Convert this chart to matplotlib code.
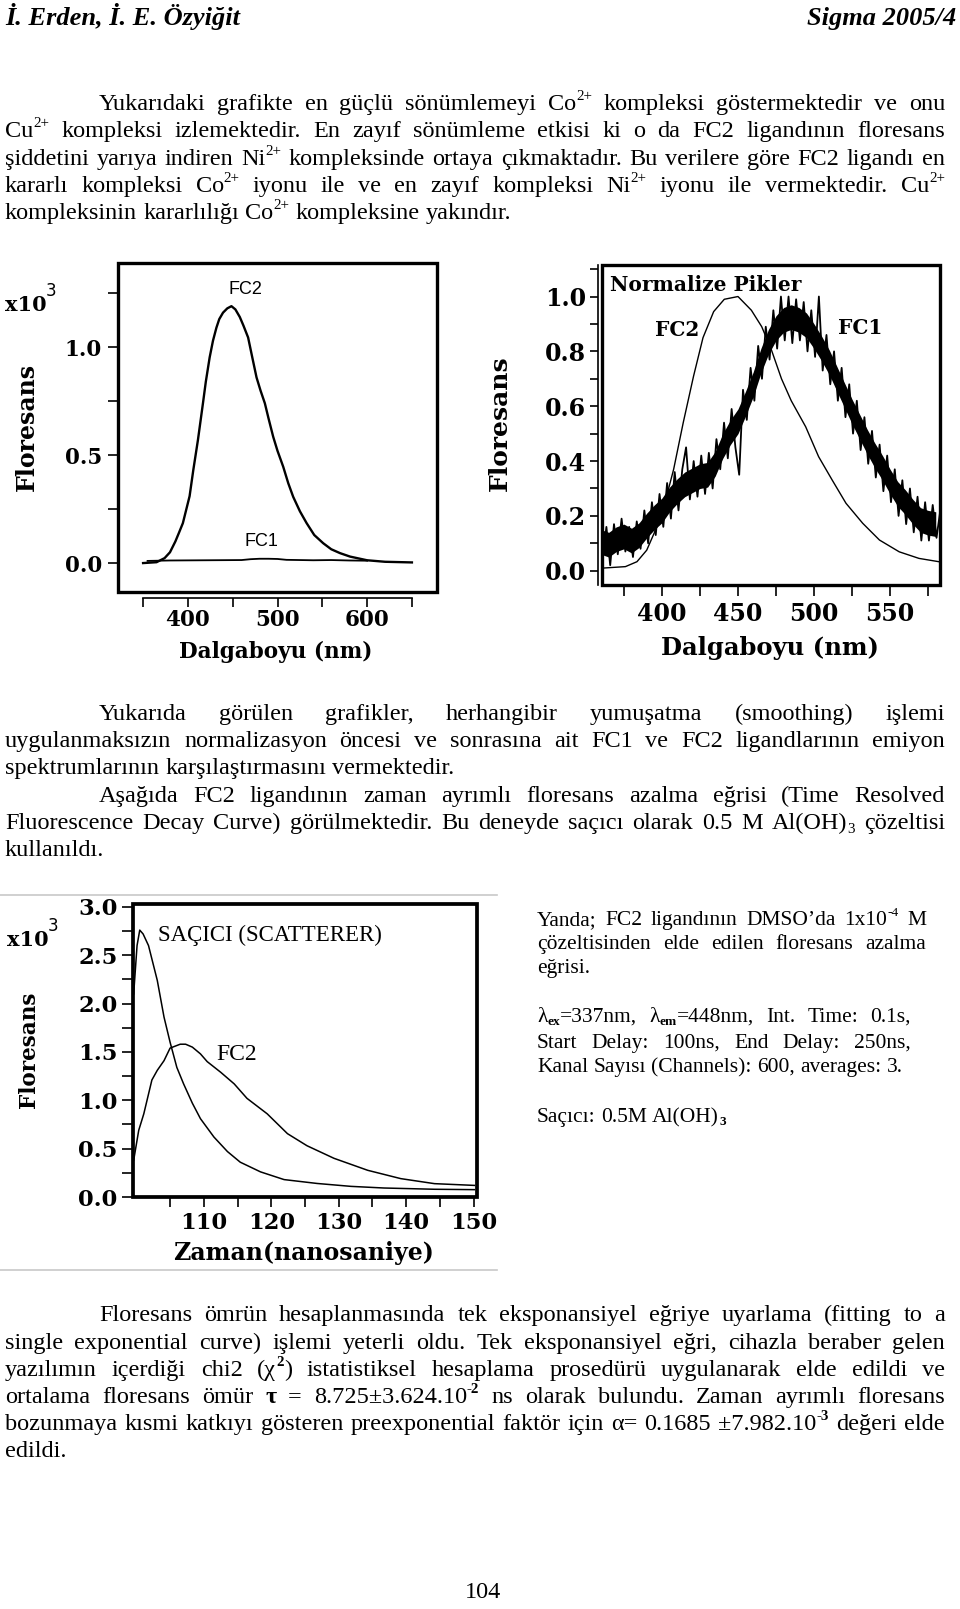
import re
import numpy as np
import matplotlib
matplotlib.use('Agg')
import matplotlib.pyplot as plt
from matplotlib.lines import Line2D
from matplotlib.patches import Rectangle

W, H = 960, 1609

# --- chart 1: raw emission spectra (x10^3) ---
fc2_wl = [350, 365, 374, 380, 386, 390, 394.4, 398, 401.9, 406, 411.2, 416.8, 420, 424.3, 428,
          431.8, 435, 439.2, 444, 448.6, 453, 457.9, 462, 467.2, 472, 476.6, 481, 485.9, 490,
          495.2, 500, 506.4, 512, 517.5, 525, 532.5, 541, 551, 560, 569.8, 581, 600, 620, 650]
fc2_int = [0.0, 0.004, 0.023, 0.05, 0.1, 0.14, 0.185, 0.245, 0.31, 0.43, 0.57, 0.74, 0.84, 0.953, 1.03,
           1.09, 1.13, 1.16, 1.18, 1.19, 1.175, 1.14, 1.10, 1.045, 0.95, 0.86, 0.80, 0.74, 0.67,
           0.585, 0.52, 0.446, 0.37, 0.307, 0.24, 0.185, 0.13, 0.092, 0.064, 0.046, 0.03, 0.013, 0.006, 0.003]
fc1_wl = [355, 380, 420, 460, 470, 480, 490, 500, 510, 540, 560, 580, 600]
fc1_int = [0.010, 0.012, 0.013, 0.014, 0.018, 0.020, 0.020, 0.019, 0.015, 0.013, 0.014, 0.012, 0.011]

# --- chart 2: normalized peaks ---
n2_wl = [362, 376, 383.6, 390, 396.7, 403, 407.7, 414, 420.8, 427, 434, 441, 450, 458.8,
         465.6, 472, 478.6, 485, 494.5, 503, 512, 521, 532, 543, 556, 569, 582]
n2_int = [0.01, 0.015, 0.033, 0.075, 0.16, 0.27, 0.37, 0.54, 0.71, 0.85, 0.945, 0.99, 1.0, 0.95,
          0.89, 0.805, 0.70, 0.62, 0.525, 0.416, 0.33, 0.246, 0.173, 0.112, 0.069, 0.045, 0.033]
# FC1: dark core of the noisy trace (every 5 nm) plus the spiky trace on top
band_wl = np.arange(360, 581, 5)
band_lo = [0.06, 0.05, 0.07, 0.08, 0.065, 0.085, 0.12, 0.15, 0.175, 0.215, 0.245, 0.27, 0.285, 0.30, 0.305,
           0.345, 0.41, 0.46, 0.50, 0.565, 0.635, 0.72, 0.79, 0.84, 0.87, 0.88, 0.87, 0.85, 0.81, 0.765,
           0.715, 0.655, 0.595, 0.535, 0.48, 0.425, 0.375, 0.33, 0.28, 0.235, 0.205, 0.17, 0.14, 0.13, 0.125]
band_hi = [0.15, 0.14, 0.16, 0.17, 0.155, 0.175, 0.21, 0.24, 0.265, 0.305, 0.335, 0.36, 0.375, 0.39, 0.395,
           0.435, 0.50, 0.55, 0.59, 0.655, 0.725, 0.81, 0.88, 0.93, 0.96, 0.97, 0.96, 0.94, 0.90, 0.855,
           0.805, 0.745, 0.685, 0.625, 0.57, 0.515, 0.465, 0.42, 0.37, 0.325, 0.295, 0.26, 0.23, 0.22, 0.215]
n1_int = [0.04, 0.16, 0.02, 0.17, 0.06, 0.19, 0.07, 0.16, 0.05, 0.18,
          0.08, 0.22, 0.10, 0.25, 0.13, 0.28, 0.16, 0.32, 0.19, 0.36,
          0.22, 0.37, 0.45, 0.26, 0.40, 0.27, 0.42, 0.28, 0.43, 0.30,
          0.48, 0.37, 0.54, 0.41, 0.59, 0.45, 0.35, 0.66, 0.55, 0.74,
          0.62, 0.82, 0.70, 0.89, 0.77, 0.95, 0.81, 1.00, 0.84, 1.00,
          0.83, 0.99, 0.84, 0.98, 0.80, 0.95, 0.78, 1.00, 0.73, 0.86,
          0.68, 0.80, 0.62, 0.74, 0.56, 0.68, 0.50, 0.62, 0.44, 0.56,
          0.39, 0.51, 0.34, 0.46, 0.29, 0.42, 0.25, 0.37, 0.20, 0.33,
          0.17, 0.30, 0.14, 0.27, 0.11, 0.25, 0.11, 0.24, 0.12, 0.22]
n1_wl = np.linspace(361, 583, len(n1_int))

# --- chart 3: decay curves (x10^3) ---
scat_t = [99.6, 99.8, 100.1, 100.5, 101.0, 101.8, 103.1, 104.1, 105.0, 106.0, 107.0, 108.3,
          109.5, 111.5, 113.5, 115.4, 118.4, 121.9, 126.8, 131.8, 136.7, 144.2, 150.1]
scat_v = [2.1, 2.3, 2.6, 2.76, 2.72, 2.60, 2.24, 1.86, 1.60, 1.34, 1.17, 0.97,
          0.81, 0.62, 0.47, 0.36, 0.26, 0.18, 0.14, 0.11, 0.093, 0.08, 0.076]
dec_t = [99.6, 100.35, 101.1, 102.3, 103.1, 104.1, 105.0, 106.5, 107.3, 108.3, 109.5, 110.5,
         112.5, 114.5, 116.4, 119.4, 122.4, 125.3, 129.3, 134.3, 139.2, 144.2, 150.1]
dec_v = [0.38, 0.69, 0.86, 1.21, 1.31, 1.41, 1.54, 1.58, 1.58, 1.55, 1.48, 1.40,
         1.29, 1.17, 1.02, 0.86, 0.655, 0.53, 0.40, 0.276, 0.19, 0.138, 0.12]

# --- page text (^{..} superscript, _{..} subscript, b = bold) ---
para1 = ["Yukarıdaki grafikte en güçlü sönümlemeyi Co^{2+} kompleksi göstermektedir ve onu",
         "Cu^{2+} kompleksi izlemektedir. En zayıf sönümleme etkisi ki o da FC2 ligandının floresans",
         "şiddetini yarıya indiren Ni^{2+} kompleksinde ortaya çıkmaktadır. Bu verilere göre FC2 ligandı en",
         "kararlı kompleksi Co^{2+} iyonu ile ve en zayıf kompleksi Ni^{2+} iyonu ile vermektedir. Cu^{2+}",
         "kompleksinin kararlılığı Co^{2+} kompleksine yakındır."]
para2 = ["Yukarıda görülen grafikler, herhangibir yumuşatma (smoothing) işlemi",
         "uygulanmaksızın normalizasyon öncesi ve sonrasına ait FC1 ve FC2 ligandlarının emiyon",
         "spektrumlarının karşılaştırmasını vermektedir.",
         "Aşağıda FC2 ligandının zaman ayrımlı floresans azalma eğrisi (Time Resolved",
         "Fluorescence Decay Curve) görülmektedir. Bu deneyde saçıcı olarak 0.5 M Al(OH)_{3} çözeltisi",
         "kullanıldı."]
side = ["Yanda; FC2 ligandının DMSO’da 1x10^{-4} M",
        "çözeltisinden elde edilen floresans azalma",
        "eğrisi.",
        "λ_b{ex}=337nm, λ_b{em}=448nm, Int. Time: 0.1s,",
        "Start Delay: 100ns, End Delay: 250ns,",
        "Kanal Sayısı (Channels): 600, averages: 3.",
        "Saçıcı: 0.5M Al(OH)_b{3}"]
para3 = ["Floresans ömrün hesaplanmasında tek eksponansiyel eğriye uyarlama (fitting to a",
         "single exponential curve) işlemi yeterli oldu. Tek eksponansiyel eğri, cihazla beraber gelen",
         "yazılımın içerdiği chi2 (χ^b{2}) istatistiksel hesaplama prosedürü uygulanarak elde edildi ve",
         "ortalama floresans ömür τ = 8.725±3.624.10^b{-2} ns olarak bulundu. Zaman ayrımlı floresans",
         "bozunmaya kısmi katkıyı gösteren preexponential faktör için α= 0.1685 ±7.982.10^b{-3} değeri elde",
         "edildi."]

fig = plt.figure(figsize=(9.6, 16.09), dpi=100)
renderer = fig.canvas.get_renderer()


def fx(x):
    return x / W


def fy(y):
    return 1 - y / H


def make_word(word, y, size, bold):
    # split a word into base / superscript / subscript pieces
    arts = []
    for part in re.split(r'([\^_]b?\{[^}]*\})', word):
        if not part:
            continue
        weight = 'bold' if bold else 'normal'
        fs, dy = size, 0.0
        if part[0] in '^_':
            if part[1] == 'b':
                weight = 'bold'
            fs = size * 0.62
            dy = 0.40 * size if part[0] == '^' else -0.15 * size
            part = part[part.index('{') + 1:-1]
        t = fig.text(0, fy(y) + dy * 100 / 72 / H, part, va='baseline', ha='left',
                     family='Liberation Serif', fontsize=fs, fontweight=weight)
        arts.append([t, t.get_window_extent(renderer).width])
    return arts


def put_line(text, x0, y, x1=None, size=17.5, bold=()):
    words = [w for w in text.split(' ') if w]
    pieces = [make_word(w, y, size, w in bold) for w in words]
    widths = [sum(p[1] for p in pc) for pc in pieces]
    if x1 is None:
        gap = 0.25 * size * 100 / 72
    else:
        gap = (x1 - x0 - sum(widths)) / (len(words) - 1)
    x = x0
    for pc, w in zip(pieces, widths):
        xx = x
        for t, pw in pc:
            t.set_x(fx(xx))
            xx += pw
        x += w + gap


def new_axes(x0, y0, x1, y1):
    return fig.add_axes([fx(x0), fy(y1), (x1 - x0) / W, (y1 - y0) / H])


def frame(ax, lw):
    for s in ax.spines.values():
        s.set_visible(False)
    ax.add_patch(Rectangle((0, 0), 1, 1, transform=ax.transAxes, fill=False,
                           lw=lw, ec='black', clip_on=False, zorder=5))


def style_ticks(ax, size):
    for lab in ax.get_xticklabels() + ax.get_yticklabels():
        lab.set_fontfamily('DejaVu Serif')
        lab.set_fontweight('bold')
        lab.set_fontsize(size)


def chart_text(x, y, s, size, rot=0, family='DejaVu Serif', weight='bold', ha='center', va='center'):
    fig.text(fx(x), fy(y), s, fontsize=size, rotation=rot, family=family,
             fontweight=weight, ha=ha, va=va)


def x10(x, y):
    fig.text(fx(x), fy(y), 'x10', family='DejaVu Serif', fontweight='bold', fontsize=15, va='baseline')
    fig.text(fx(x + 41), fy(y - 15), '3', family='DejaVu Sans', fontsize=12, va='baseline')


# header
fig.text(fx(5), fy(25), 'İ. Erden, İ. E. Özyiğit', family='Liberation Serif', fontsize=19,
         fontweight='bold', fontstyle='italic', va='baseline')
fig.text(fx(956), fy(25), 'Sigma 2005/4', family='Liberation Serif', fontsize=19,
         fontweight='bold', fontstyle='italic', va='baseline', ha='right')

# paragraph 1
ys = [110, 137, 165, 192, 219]
for i, (t, y) in enumerate(zip(para1, ys)):
    x0 = 99 if i == 0 else 5
    put_line(t, x0, y, 945 if i < 4 else None)

# chart 1
ax1 = new_axes(118, 263, 437, 592)
ax1.plot(fc2_wl, fc2_int, color='black', lw=1.7)
ax1.plot(fc1_wl, fc1_int, color='black', lw=1.3)
ax1.set_xlim(322, 678)
ax1.set_ylim(-0.134, 1.39)
frame(ax1, 2.4)
ax1.spines['bottom'].set_visible(True)
ax1.spines['bottom'].set_position(('outward', 4))
ax1.spines['bottom'].set_bounds(350, 650)
ax1.spines['bottom'].set_linewidth(1.2)
ax1.set_xticks(np.arange(350, 651, 50))
ax1.set_xticklabels(['', '400', '', '500', '', '600', ''])
ax1.set_yticks(np.arange(0, 1.26, 0.25))
ax1.set_yticklabels(['0.0', '', '0.5', '', '1.0', ''])
ax1.tick_params(axis='y', direction='out', length=7.5, width=1.2, pad=4)
ax1.tick_params(axis='x', direction='out', length=6.5, width=1.2, pad=2)
style_ticks(ax1, 15.5)
chart_text(276, 652, 'Dalgaboyu (nm)', 15.5)
chart_text(27, 427, 'Floresans', 17, rot=90)
x10(5, 311)
chart_text(245, 289, 'FC2', 13, family='Liberation Sans', weight='normal')
chart_text(261, 542, 'FC1', 13, family='Liberation Sans', weight='normal')

# chart 2
ax2 = new_axes(602, 265, 940, 585)
ax2.plot(n2_wl, n2_int, color='black', lw=1.0)
ax2.fill_between(band_wl, band_lo, band_hi, color='black', lw=0)
ax2.plot(n1_wl, n1_int, color='black', lw=1.3)
ax2.set_xlim(360.6, 582.8)
ax2.set_ylim(-0.052, 1.115)
frame(ax2, 2.4)
ax2.spines['left'].set_visible(True)
ax2.spines['left'].set_position(('outward', 3))
ax2.spines['left'].set_linewidth(1.2)
ax2.set_xticks(np.arange(375, 576, 25))
ax2.set_xticklabels(['', '400', '', '450', '', '500', '', '550', ''])
ax2.set_yticks(np.arange(0, 1.11, 0.1))
ax2.set_yticklabels(['0.0', '', '0.2', '', '0.4', '', '0.6', '', '0.8', '', '1.0', ''])
ax2.tick_params(axis='y', direction='out', length=5.5, width=1.2, pad=3)
ax2.tick_params(axis='x', direction='out', length=8, width=1.2, pad=4)
style_ticks(ax2, 17)
chart_text(770, 648, 'Dalgaboyu (nm)', 17.5)
chart_text(500, 423, 'Floresans', 18, rot=90)
chart_text(610, 285, 'Normalize Pikler', 14.5, ha='left')
chart_text(677, 330, 'FC2', 14.5)
chart_text(860, 328, 'FC1', 14.5)

# paragraph 2
ys = [720, 747, 774, 802, 829, 856]
for i, (t, y) in enumerate(zip(para2, ys)):
    x0 = 99 if i in (0, 3) else 5
    put_line(t, x0, y, 945 if i in (0, 1, 3, 4) else None)

# chart 3 image border lines
for yl in (895, 1270):
    fig.add_artist(Line2D([fx(0), fx(497)], [fy(yl), fy(yl)], color='#c8c8c8', lw=1.2))

ax3 = new_axes(133, 904, 477, 1197)
ax3.plot(scat_t, scat_v, color='black', lw=1.1)
ax3.plot(dec_t, dec_v, color='black', lw=1.1)
ax3.set_xlim(99.5, 150.5)
ax3.set_ylim(0, 3.03)
frame(ax3, 2.7)
ax3.set_xticks(np.arange(105, 151, 5))
ax3.set_xticklabels(['', '110', '', '120', '', '130', '', '140', '', '150'])
ax3.set_yticks(np.arange(0, 3.01, 0.25))
ax3.set_yticklabels(['0.0', '', '0.5', '', '1.0', '', '1.5', '', '2.0', '', '2.5', '', '3.0'])
ax3.tick_params(axis='y', direction='out', length=8, width=1.2, pad=3)
ax3.tick_params(axis='x', direction='out', length=7, width=1.2, pad=4)
style_ticks(ax3, 16.3)
chart_text(303, 1253, 'Zaman(nanosaniye)', 17)
chart_text(29, 1050, 'Floresans', 15.5, rot=90)
x10(7, 946)
chart_text(158, 935, 'SAÇICI (SCATTERER)', 16.5, family='Liberation Serif', weight='normal', ha='left')
chart_text(237, 1055, 'FC2', 17, family='Liberation Serif', weight='normal')

# side note
ys = [925, 949, 973, 1022, 1048, 1072, 1122]
ends = [926, 926, None, 911, 911, None, None]
for t, y, e in zip(side, ys, ends):
    put_line(t, 537, y, e, size=15.5)

# paragraph 3
ys = [1321, 1349, 1376, 1403, 1430, 1457]
for i, (t, y) in enumerate(zip(para3, ys)):
    x0 = 99 if i == 0 else 5
    put_line(t, x0, y, 945 if i < 5 else None, bold=('τ',))

fig.text(fx(483), fy(1598), '104', family='Liberation Serif', fontsize=17.5, ha='center', va='baseline')

fig.savefig('out.png', dpi=100)
